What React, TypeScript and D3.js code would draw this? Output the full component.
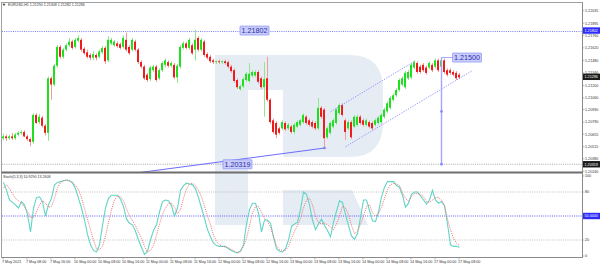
import React from 'react';
import * as d3 from 'd3';

// [open, high, low, close] per H1 bar, 7 May 00:00 .. 17 May 08:00
const candles: [number, number, number, number][] = [
[1.2061,1.2066,1.2059,1.2063],[1.2063,1.2065,1.2058,1.2061],[1.2061,1.2065,1.2059,1.2063],[1.2063,1.2067,1.2059,1.2061],
[1.2061,1.2067,1.2059,1.2065],[1.2065,1.2069,1.2063,1.2067],[1.2067,1.2070,1.2065,1.2068],[1.2068,1.2070,1.2062,1.2063],
[1.2063,1.2065,1.2058,1.2060],[1.2060,1.2062,1.2052,1.2057],[1.2057,1.2089,1.2055,1.2087],[1.2087,1.2089,1.2077,1.2078],
[1.2079,1.2088,1.2077,1.2085],[1.2084,1.2086,1.2073,1.2075],[1.2075,1.2077,1.2064,1.2067],[1.2067,1.2130,1.2058,1.2128],
[1.2128,1.2130,1.2104,1.2121],[1.2121,1.2144,1.2119,1.2142],[1.2142,1.2165,1.2140,1.2163],[1.2163,1.2165,1.2150,1.2152],
[1.2152,1.2162,1.2150,1.2160],[1.2160,1.2167,1.2158,1.2165],[1.2165,1.2173,1.2163,1.2169],[1.2169,1.2171,1.2160,1.2162],
[1.2163,1.2173,1.2161,1.2171],[1.2170,1.2176,1.2168,1.2173],[1.2171,1.2173,1.2158,1.2160],[1.2161,1.2163,1.2154,1.2156],
[1.2157,1.2160,1.2150,1.2152],[1.2154,1.2156,1.2148,1.2151],[1.2151,1.2158,1.2148,1.2155],[1.2154,1.2156,1.2148,1.2151],
[1.2152,1.2160,1.2150,1.2158],[1.2157,1.2164,1.2155,1.2162],[1.2162,1.2164,1.2144,1.2147],[1.2148,1.2175,1.2146,1.2171],
[1.2167,1.2173,1.2165,1.2171],[1.2165,1.2171,1.2163,1.2169],[1.2167,1.2169,1.2162,1.2164],[1.2166,1.2168,1.2160,1.2162],
[1.2163,1.2176,1.2161,1.2173],[1.2171,1.2179,1.2158,1.2160],[1.2163,1.2165,1.2154,1.2156],[1.2160,1.2173,1.2158,1.2171],
[1.2169,1.2171,1.2158,1.2160],[1.2160,1.2162,1.2144,1.2146],[1.2146,1.2148,1.2139,1.2141],[1.2141,1.2143,1.2126,1.2128],
[1.2132,1.2134,1.2124,1.2126],[1.2127,1.2142,1.2125,1.2140],[1.2137,1.2143,1.2135,1.2141],[1.2141,1.2143,1.2124,1.2126],
[1.2128,1.2139,1.2126,1.2137],[1.2137,1.2147,1.2135,1.2145],[1.2143,1.2150,1.2140,1.2148],[1.2146,1.2148,1.2140,1.2142],
[1.2142,1.2147,1.2140,1.2145],[1.2143,1.2145,1.2127,1.2129],[1.2129,1.2144,1.2123,1.2142],[1.2141,1.2165,1.2139,1.2163],
[1.2162,1.2169,1.2160,1.2167],[1.2167,1.2169,1.2160,1.2162],[1.2162,1.2173,1.2160,1.2171],[1.2165,1.2167,1.2154,1.2156],
[1.2160,1.2182,1.2148,1.2171],[1.2173,1.2175,1.2158,1.2160],[1.2160,1.2173,1.2158,1.2171],[1.2169,1.2171,1.2152,1.2154],
[1.2155,1.2157,1.2149,1.2151],[1.2152,1.2154,1.2145,1.2147],[1.2148,1.2150,1.2144,1.2146],[1.2146,1.2148,1.2144,1.2147],
[1.2147,1.2149,1.2144,1.2146],[1.2146,1.2148,1.2144,1.2147],[1.2147,1.2149,1.2143,1.2145],[1.2146,1.2148,1.2139,1.2141],
[1.2141,1.2143,1.2134,1.2136],[1.2137,1.2139,1.2123,1.2125],[1.2126,1.2128,1.2116,1.2118],[1.2116,1.2121,1.2114,1.2119],
[1.2119,1.2129,1.2117,1.2127],[1.2126,1.2135,1.2124,1.2133],[1.2125,1.2145,1.2123,1.2133],[1.2131,1.2137,1.2129,1.2135],
[1.2131,1.2137,1.2129,1.2135],[1.2135,1.2137,1.2122,1.2124],[1.2128,1.2130,1.2116,1.2118],[1.2118,1.2146,1.2085,1.2127],
[1.2128,1.2152,1.2102,1.2104],[1.2104,1.2106,1.2077,1.2079],[1.2081,1.2083,1.2066,1.2068],[1.2078,1.2080,1.2061,1.2065],
[1.2072,1.2074,1.2065,1.2067],[1.2072,1.2081,1.2070,1.2079],[1.2078,1.2080,1.2069,1.2071],[1.2072,1.2078,1.2070,1.2076],
[1.2074,1.2076,1.2066,1.2068],[1.2068,1.2078,1.2066,1.2076],[1.2074,1.2081,1.2072,1.2079],[1.2076,1.2083,1.2074,1.2081],
[1.2079,1.2089,1.2077,1.2087],[1.2085,1.2087,1.2076,1.2078],[1.2081,1.2083,1.2074,1.2076],[1.2079,1.2081,1.2072,1.2074],
[1.2078,1.2080,1.2070,1.2072],[1.2072,1.2106,1.2070,1.2095],[1.2095,1.2097,1.2083,1.2085],[1.2093,1.2095,1.2050,1.2061],
[1.2062,1.2074,1.2060,1.2072],[1.2067,1.2080,1.2065,1.2078],[1.2074,1.2083,1.2072,1.2081],[1.2078,1.2095,1.2076,1.2093],
[1.2089,1.2100,1.2087,1.2098],[1.2098,1.2100,1.2085,1.2087],[1.2081,1.2083,1.2059,1.2068],[1.2072,1.2081,1.2070,1.2079],
[1.2079,1.2081,1.2060,1.2062],[1.2074,1.2087,1.2072,1.2085],[1.2076,1.2087,1.2074,1.2085],[1.2085,1.2087,1.2076,1.2078],
[1.2081,1.2083,1.2074,1.2076],[1.2076,1.2083,1.2074,1.2081],[1.2079,1.2081,1.2072,1.2074],[1.2078,1.2080,1.2070,1.2072],
[1.2076,1.2083,1.2074,1.2081],[1.2078,1.2086,1.2076,1.2084],[1.2079,1.2089,1.2077,1.2087],[1.2085,1.2095,1.2083,1.2093],
[1.2091,1.2102,1.2089,1.2100],[1.2095,1.2108,1.2093,1.2106],[1.2104,1.2111,1.2102,1.2109],[1.2109,1.2117,1.2107,1.2115],
[1.2115,1.2128,1.2113,1.2126],[1.2121,1.2130,1.2119,1.2128],[1.2118,1.2136,1.2116,1.2134],[1.2128,1.2137,1.2126,1.2135],
[1.2129,1.2145,1.2127,1.2143],[1.2140,1.2148,1.2138,1.2146],[1.2145,1.2147,1.2133,1.2135],[1.2141,1.2143,1.2133,1.2135],
[1.2143,1.2145,1.2135,1.2137],[1.2140,1.2142,1.2132,1.2134],[1.2140,1.2147,1.2138,1.2145],[1.2143,1.2145,1.2135,1.2137],
[1.2141,1.2150,1.2139,1.2148],[1.2148,1.2150,1.2135,1.2137],[1.2141,1.2151,1.2139,1.2148],[1.2148,1.2150,1.2133,1.2135],
[1.2137,1.2139,1.2130,1.2132],[1.2137,1.2139,1.2132,1.2134],[1.2135,1.2137,1.2130,1.2132],[1.2134,1.2136,1.2126,1.2128],
[1.2132,1.2134,1.2127,1.2129],
];

const stochK: number[] = [
92,82,70,67,64,60,68,64,52,30, 60,73,74,68,50,64,72,89,92,93, 94,95,94,92,84,72,60,45,27,14,
7,5,14,38,60,72,76,76,76,71, 62,46,41,39,31,20,11,2,6,20, 32,39,55,68,70,69,63,50,60,82,
88,91,90,89,84,73,60,47,33,24, 16,13,12,12,12,9,7,5,4,6, 14,40,58,66,66,54,30,45,45,41,
24,9,6,5,9,20,37,40,42,58, 80,77,64,45,33,40,46,38,32,24, 42,56,69,67,52,38,25,21,28,48,
70,70,57,44,43,55,74,86,93,93, 93,88,86,76,61,66,77,80,80,75, 70,65,70,82,70,66,68,63,40,14,
12,12,10.929,
];
const stochD: number[] = [
85,89,84,78,72,69,66,61,56,48, 48,55,64,69,66,61,62,72,85,92, 94,95,94,91,88,83,73,59,46,33,
20,9,8,12,25,42,58,70,75,74, 69,59,50,44,38,30,22,12,5,7, 13,26,40,52,60,66,66,61,53,58,
72,84,90,91,88,82,74,62,50,39, 26,18,14,12,11,10,8,6,4,6, 12,22,38,54,62,62,55,47,43,36,
24,13,8,7,7,12,22,31,38,47, 60,70,72,64,50,42,40,41,39,36, 33,40,50,62,60,52,38,28,31,40,
50,62,64,54,50,53,61,72,83,89, 91,90,88,79,72,68,74,78,78,77, 74,68,67,70,73,73,70,63,46,33,
22,16,13.2608,
];

const priceTicks = [1.22035,1.21895,1.2176,1.2162,1.2148,1.2134,1.212,1.2106,1.2093,1.2079,1.20655,1.20515,1.2038,1.2024];
const timeLabels = ['7 May 2021','7 May 08:00','7 May 16:00','10 May 00:00','10 May 08:00','10 May 16:00','11 May 00:00','11 May 08:00','11 May 16:00','12 May 00:00','12 May 08:00','12 May 16:00','13 May 00:00','13 May 08:00','13 May 16:00','14 May 00:00','14 May 08:00','14 May 16:00','17 May 00:00','17 May 08:00'];
const stochTicks = [100, 80, 20, 0];
const stochLevels = [80, 20];

const levelHigh = 1.21802;
const levelTarget = 1.20319;
const levelPeak = 1.215;
const lastPrice = 1.21296;
const peakBar = 146;
const trendLine: [number, number][] = [[44, 1.2022], [107, 1.2050]];
const channelUpper: [number, number][] = [[109, 1.20906], [137, 1.21469]];
const channelLower: [number, number][] = [[114, 1.20515], [156, 1.2136]];
const header = 'EURUSD,H1  1.21290 1.21308 1.21282 1.21286';
const stochHeader = 'Stoch(5,3,3) 10.9290 13.2608';

const fmt = (v: number) => v.toFixed(5);

export default function App() {
  const x = d3.scaleLinear().domain([0, 152]).range([3, 459]);
  const y = d3.scaleLinear().domain([1.20238, 1.22121]).range([171.5, 3]);
  const ys = d3.scaleLinear().domain([0, 100]).range([256, 176]);
  const line = d3.line<number>().x((_, i) => x(i) + 0.5).y((d) => ys(d));
  const seg = d3.line<[number, number]>().x((d) => x(d[0]) + 0.5).y((d) => y(d[1]));

  const GREEN = '#1fe01f', RED = '#ee1c1c', WG = '#8ee88e', WR = '#f49a9a';
  const axisFont = 3.7;
  const peakX = x(peakBar) + 0.5;

  const labelBox = (lx: number, ly: number, text: string, key: string) => (
    <g key={key}>
      <rect x={lx} y={ly - 4.5} width={29} height={9} fill="#c9cdfb" stroke="#8a90f4" strokeWidth={0.7} rx={0.5} />
      <text x={lx + 14.5} y={ly} dy="0.36em" textAnchor="middle" fontSize={7.2} fill="#2a2aa8">{text}</text>
    </g>
  );

  const axisBox = (yy: number, text: string, fill: string, key: string) => (
    <g key={key}>
      <rect x={583} y={yy - 3.2} width={17} height={6.4} fill={fill} />
      <text x={584.5} y={yy} dy="0.36em" fontSize={axisFont} fill="#fff">{text}</text>
    </g>
  );

  return (
    <svg width={600} height={268} viewBox="0 0 600 268"
      style={{ position: 'absolute', left: 0, top: 0, background: '#fff', display: 'block' }}
      fontFamily="'Liberation Sans', Arial, sans-serif">
      <defs>
        <clipPath id="mainClip"><rect x={2} y={3} width={580} height={169} /></clipPath>
        <clipPath id="stochClip"><rect x={2} y={174} width={580} height={83} /></clipPath>
      </defs>

      {/* watermark */}
      <g fill="#e5ecf4">
        <rect x={215} y={55} width={33} height={170} />
        <path d="M248,55 L350,55 Q383,55 383,90 L248,90 Z" />
        <path d="M283,90 L383,90 L383,122 Q383,157 350,157 L283,157 Z" />
        <path d="M283,190 L352,190 L368,225 L283,225 Z" />
      </g>

      {/* main pane */}
      <g clipPath="url(#mainClip)">
        <line x1={2} x2={582} y1={y(levelHigh)} y2={y(levelHigh)} stroke="#7878ff" strokeWidth={1} strokeDasharray="1,1.2" />
        <line x1={2} x2={582} y1={y(levelTarget)} y2={y(levelTarget)} stroke="#a8a8a8" strokeWidth={1} strokeDasharray="1,1.2" />
        {candles.map((c, i) => {
          const [o, h, l, cl] = c;
          const up = cl >= o;
          const cx = x(i);
          const top = y(Math.max(o, cl));
          const bot = y(Math.min(o, cl));
          return (
            <g key={i}>
              <rect x={cx} y={y(h)} width={1} height={Math.max(0.8, y(l) - y(h))} fill={up ? WG : WR} />
              <rect x={cx - 1} y={top} width={2} height={Math.max(0.9, bot - top)} fill={up ? GREEN : RED} />
            </g>
          );
        })}
        <path d={seg(trendLine) || ''} stroke="#6c6cff" strokeWidth={1} fill="none" />
        <circle cx={x(trendLine[1][0]) + 0.5} cy={y(trendLine[1][1])} r={1.3} fill="#8080ff" />
        <path d={seg(channelUpper) || ''} stroke="#8a8aff" strokeWidth={0.9} strokeDasharray="1.3,1.3" fill="none" />
        <path d={seg(channelLower) || ''} stroke="#8a8aff" strokeWidth={0.9} strokeDasharray="1.3,1.3" fill="none" />
        <line x1={peakX} x2={peakX} y1={y(levelPeak) - 1} y2={y(levelTarget)} stroke="#a4a4ff" strokeWidth={1.4} />
        <line x1={peakX} x2={peakX + 11} y1={y(levelPeak) - 1} y2={y(levelPeak) - 1} stroke="#a4a4ff" strokeWidth={1} />
        <circle cx={peakX} cy={y((levelPeak + levelTarget) / 2)} r={1.4} fill="#8c8cff" />
        <circle cx={peakX} cy={y(levelTarget)} r={1.4} fill="#8c8cff" />
        {labelBox(240, y(levelHigh) - 1, fmt(levelHigh), 'lh')}
        {labelBox(223, y(levelTarget), fmt(levelTarget), 'lt')}
        {labelBox(peakX + 11, y(levelPeak) - 1, fmt(levelPeak), 'lp')}
      </g>

      {/* stochastic pane */}
      <g clipPath="url(#stochClip)">
        {stochLevels.map((v) => (
          <line key={v} x1={2} x2={582} y1={ys(v)} y2={ys(v)} stroke="#b4b4b4" strokeWidth={0.8} strokeDasharray="1,1.2" />
        ))}
        <line x1={2} x2={582} y1={ys(50)} y2={ys(50)} stroke="#5a5aff" strokeWidth={1} strokeDasharray="1,1.2" />
        <path d={line(stochK) || ''} stroke="#62d4c6" strokeWidth={1.1} fill="none" />
        <path d={line(stochD) || ''} stroke="#f07a7a" strokeWidth={1} strokeDasharray="1.1,1.1" fill="none" />
      </g>

      {/* frames */}
      <rect x={1.5} y={2.5} width={581} height={255} fill="none" stroke="#a0a0a0" strokeWidth={1} />
      <line x1={1.5} x2={582.5} y1={172.5} y2={172.5} stroke="#6e6e6e" strokeWidth={2} />
      <line x1={582.5} x2={582.5} y1={2.5} y2={257.5} stroke="#8a8a8a" strokeWidth={1} />
      <line x1={1.5} x2={582.5} y1={257.5} y2={257.5} stroke="#8a8a8a" strokeWidth={1} />

      {/* headers */}
      <path d="M2.5,3.8 L5.5,3.8 L4,6 Z" fill="#444" />
      <text x={8} y={5} dy="0.36em" fontSize={3.6} fill="#333">{header}</text>
      <text x={3} y={176.8} dy="0.36em" fontSize={3.6} fill="#333">{stochHeader}</text>

      {/* price axis */}
      {priceTicks.map((p) => (
        <g key={p}>
          <line x1={582.5} x2={584.5} y1={y(p)} y2={y(p)} stroke="#888" strokeWidth={0.6} />
          <text x={585} y={y(p)} dy="0.36em" fontSize={axisFont} fill="#333">{fmt(p)}</text>
        </g>
      ))}
      {axisBox(y(levelHigh) - 1, fmt(levelHigh), '#2b2bff', 'bh')}
      {axisBox(y(lastPrice), fmt(lastPrice), '#1c1c1c', 'bl')}
      {axisBox(y(levelTarget), fmt(levelTarget), '#1c1c1c', 'bt')}

      {/* stoch axis */}
      {stochTicks.map((v) => (
        <g key={v}>
          <line x1={582.5} x2={584.5} y1={ys(v)} y2={ys(v)} stroke="#888" strokeWidth={0.6} />
          <text x={585} y={ys(v)} dy="0.36em" fontSize={axisFont} fill="#333">{v}</text>
        </g>
      ))}
      {axisBox(ys(50), '50.0000', '#2b2bff', 'b50')}

      {/* time axis */}
      {timeLabels.map((t, k) => (
        <g key={t}>
          <line x1={x(k * 8)} x2={x(k * 8)} y1={257.5} y2={259.5} stroke="#888" strokeWidth={0.6} />
          <text x={x(k * 8) - 1} y={262} dy="0.36em" fontSize={axisFont} fill="#333">{t}</text>
        </g>
      ))}
    </svg>
  );
}
